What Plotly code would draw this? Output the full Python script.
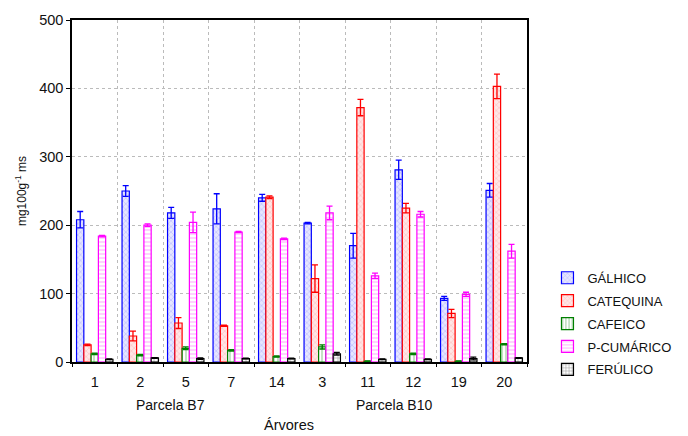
import plotly.graph_objects as go

arvores = ["1", "2", "5", "7", "14", "3", "11", "12", "19", "20"]
series_names = ["GÁLHICO", "CATEQUINA", "CAFEICO", "P-CUMÁRICO", "FERÚLICO"]

galhico = [208, 250, 218, 224, 240, 203, 170, 281, 93, 251]
galhico_err = [12, 8, 8, 22, 5, 1, 18, 14, 3, 10]
catequina = [25, 38, 57, 53, 241, 122, 372, 225, 71, 403]
catequina_err = [1, 7, 8, 1, 2, 20, 12, 7, 6, 18]
cafeico = [12, 10, 20, 17, 8, 22, 1, 12, 1, 26]
cafeico_err = [1, 1, 2, 1, 1, 3, 0.5, 1, 0.5, 1]
pcumarico = [184, 200, 204, 190, 180, 218, 126, 216, 99, 162]
pcumarico_err = [1, 2, 15, 1, 1, 10, 4, 4, 3, 10]
ferulico = [4, 6, 5, 5, 5, 12, 4, 4, 5, 6]
ferulico_err = [0.5, 0.5, 1, 0.5, 0.5, 2, 0.5, 0.5, 2, 0.5]

values = [galhico, catequina, cafeico, pcumarico, ferulico]
errors = [galhico_err, catequina_err, cafeico_err, pcumarico_err, ferulico_err]

line_colors = ["#0000ff", "#ff0000", "#007f00", "#ff00ff", "#000000"]
fg_colors = ["#8c8cff", "#ff9a9a", "#3a9a3a", "#ff66ff", "#404040"]
bg_colors = ["#e6e6ff", "#ffe6e6", "#ffffff", "#ffffff", "#ffffff"]
shapes = ["x", "x", "|", "-", "+"]
sizes = [4, 4, 4, 4, 4]

fig = go.Figure()
for name, v, e, lc, fg, bg, sh, sz in zip(series_names, values, errors, line_colors,
                                          fg_colors, bg_colors, shapes, sizes):
    fig.add_trace(go.Bar(
        name=name, x=arvores, y=v, legendgroup=name,
        marker=dict(color=bg, line=dict(color=lc, width=1.2),
                    pattern=dict(shape=sh, fgcolor=fg, bgcolor=bg, size=sz, solidity=0.3)),
        error_y=dict(type="data", array=e, color=lc, thickness=1.3, width=3),
    ))

font = "Liberation Sans, Arial, sans-serif"
fig.update_layout(
    width=688, height=436,
    barmode="group", bargap=0.2, bargroupgap=0,
    paper_bgcolor="white", plot_bgcolor="white",
    margin=dict(l=72, r=158, t=17, b=74),
    font=dict(family=font, size=14, color="#111"),
    legend=dict(x=1.045, y=0.29, xanchor="left", yanchor="top",
                font=dict(size=13, family=font), tracegroupgap=3,
                itemwidth=30, borderwidth=0),
    xaxis=dict(type="category", tickson="boundaries", showgrid=True,
               gridcolor="#bbbbbb", griddash="dot", gridwidth=1,
               ticks="outside", ticklen=3, tickcolor="black",
               showline=True, linecolor="black", linewidth=1.5, mirror=True,
               tickfont=dict(size=14.5), ticklabelstandoff=6),
    yaxis=dict(range=[0, 500], dtick=100, showgrid=True, gridcolor="#bbbbbb",
               griddash="dot", gridwidth=1, ticks="outside", ticklen=4,
               tickcolor="black", showline=True, linecolor="black", linewidth=1.5,
               mirror=True, zeroline=False, tickfont=dict(size=14.5),
               title=dict(text="mg100g<sup>-1</sup> ms", font=dict(size=12), standoff=10)),
    showlegend=True,
)

fig.add_annotation(text="Parcela B7", x=0.217, y=-0.125, xref="paper", yref="paper",
                   showarrow=False, xanchor="center", yanchor="middle", font=dict(size=14))
fig.add_annotation(text="Parcela B10", x=0.707, y=-0.125, xref="paper", yref="paper",
                   showarrow=False, xanchor="center", yanchor="middle", font=dict(size=14))
fig.add_annotation(text="Árvores", x=0.476, y=-0.185, xref="paper", yref="paper",
                   showarrow=False, xanchor="center", yanchor="middle", font=dict(size=14.5))

fig.write_html("out.html", config={"displayModeBar": False},
               post_script="document.body.style.margin='0';")
